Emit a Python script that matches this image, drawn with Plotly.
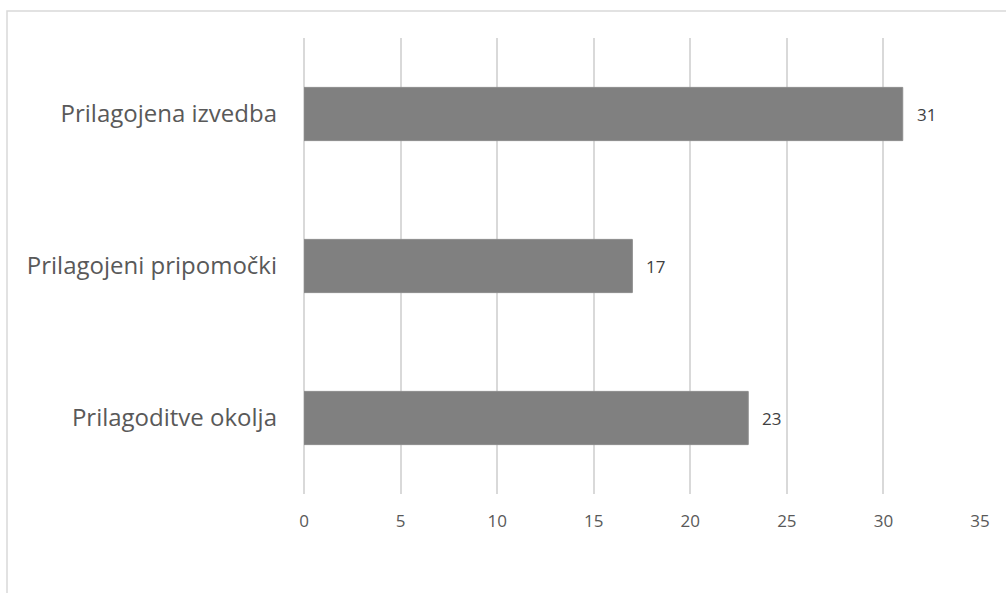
import plotly.graph_objects as go

categories = ["Prilagojena izvedba", "Prilagojeni pripomočki", "Prilagoditve okolja"]
values = [31, 17, 23]
x_ticks = [0, 5, 10, 15, 20, 25, 30, 35]

W, H = 1006, 593
L, R, T, B = 304, 26, 38, 99
pw = W - L - R
ph = H - T - B

fig = go.Figure()
fig.add_trace(go.Bar(
    y=categories, x=values, orientation="h",
    marker=dict(color="#808080", line=dict(color="#8c8c8c", width=1)),
    width=0.35, hoverinfo="skip",
))
for c, v in zip(categories, values):
    fig.add_annotation(x=v, y=c, text=str(v), showarrow=False, xanchor="left",
                       xshift=12, font=dict(family="Open Sans", size=17, color="#404040"))

# outer chart border
fig.add_shape(type="rect", xref="paper", yref="paper",
              x0=(7 - L) / pw, x1=1.2, y0=-0.5, y1=(H - B - 11) / ph,
              line=dict(color="#d9d9d9", width=1.5), layer="below")

fig.update_layout(
    width=W, height=H,
    margin=dict(l=L, r=R, t=T, b=B),
    paper_bgcolor="white", plot_bgcolor="white",
    showlegend=False,
    font=dict(family="Open Sans", color="#595959"),
    xaxis=dict(range=[0, 35], tickvals=x_ticks, showgrid=True, gridcolor="#d9d9d9",
               gridwidth=1.5, zeroline=True, zerolinecolor="#d9d9d9", zerolinewidth=1.5,
               showline=False,
               tickfont=dict(size=17, color="#595959"), ticklabelstandoff=15,
               fixedrange=True),
    yaxis=dict(categoryorder="array", categoryarray=categories[::-1],
               showgrid=False, zeroline=False, showline=False,
               tickfont=dict(size=24, color="#595959"), ticklabelstandoff=26,
               fixedrange=True),
)
fig.write_html("out.html")
